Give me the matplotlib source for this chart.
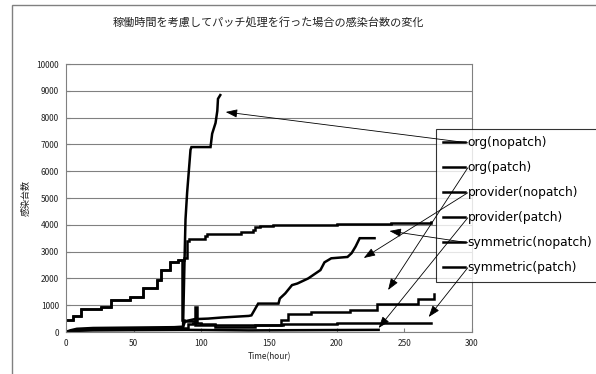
"""
Infected host counts over time when patching takes uptime into account.
"""
import matplotlib

matplotlib.use("Agg")
import matplotlib.pyplot as plt
from matplotlib.patches import Rectangle

plt.rcParams["font.family"] = ["Noto Sans CJK JP", "DejaVu Sans"]

TITLE = "稼働時間を考慮してパッチ処理を行った場合の感染台数の変化"
X_LABEL = "Time(hour)"
Y_LABEL = "感染台数"

labels = [
    "org(nopatch)",
    "org(patch)",
    "provider(nopatch)",
    "provider(patch)",
    "symmetric(nopatch)",
    "symmetric(patch)",
]

# values (hours, infected hosts)
org_nopatch_t = [0, 3, 8, 20, 40, 60, 80, 86.5, 87.5, 88.3, 89.5, 92, 92.7, 106.8, 108, 110.5, 111.8, 112.3, 114]
org_nopatch_v = [0, 60, 120, 150, 160, 170, 180, 200, 2500, 4200, 5200, 6800, 6900, 6900, 7400, 7800, 8250, 8700, 8840]

org_patch_t = [0, 8, 40, 86, 90, 94, 95, 96.5, 100, 110, 135, 157, 159, 164, 181, 210, 230, 260, 272]
org_patch_v = [0, 100, 130, 150, 300, 350, 940, 350, 300, 260, 250, 250, 450, 690, 750, 815, 1060, 1250, 1400]

provider_nopatch_t = [0, 10, 40, 86, 88, 95, 105, 115, 135, 137, 142, 157, 158, 162, 167, 171, 179, 188, 191,
                      196, 208, 211, 214, 217, 228]
provider_nopatch_v = [0, 80, 100, 120, 400, 480, 500, 540, 600, 620, 1060, 1060, 1250, 1440, 1750, 1810, 2000,
                      2310, 2600, 2750, 2800, 2940, 3190, 3500, 3500]

provider_patch_t = [0, 5, 20, 50, 90, 135, 180, 231]
provider_patch_v = [0, 40, 60, 70, 80, 60, 70, 80]

symmetric_nopatch_t = [0, 5, 11, 26, 33, 47, 57, 67, 70, 77, 83, 87, 89.5, 91, 103, 104.5, 129, 138, 140, 143,
                       153, 200, 240, 270]
symmetric_nopatch_v = [450, 600, 850, 950, 1200, 1300, 1650, 1950, 2300, 2600, 2700, 2750, 3380, 3460, 3590,
                       3660, 3750, 3810, 3910, 3960, 4000, 4040, 4080, 4100]

symmetric_patch_t = [0, 5, 11, 26, 33, 47, 57, 67, 70, 77, 83, 86, 87, 95, 110, 140, 160, 200, 240, 270]
symmetric_patch_v = [450, 600, 850, 950, 1200, 1300, 1650, 1950, 2300, 2600, 2700, 440, 400, 250, 190, 250,
                     280, 320, 345, 345]

# where each legend entry's arrow points (hour, hosts)
arrow_t = [118, 238, 220, 231, 239, 268]
arrow_v = [8209, 1567, 2761, 149, 3769, 560]

W, H = 596, 374
fig = plt.figure(figsize=(W / 100, H / 100), dpi=100)
fig.patches.append(Rectangle((12 / W, -0.05), 1.1, 1 - 5 / H + 0.05, transform=fig.transFigure,
                             fill=False, edgecolor="#808080", lw=1.0))
fig.text(268 / W, 1 - 22 / H, TITLE, ha="center", va="center", fontsize=8, color="#222222")

ax = fig.add_axes([66 / W, 42 / H, 406 / W, 268 / H])

series = [
    (org_nopatch_t, org_nopatch_v, "default"),
    (org_patch_t, org_patch_v, "steps-post"),
    (provider_nopatch_t, provider_nopatch_v, "default"),
    (provider_patch_t, provider_patch_v, "default"),
    (symmetric_nopatch_t, symmetric_nopatch_v, "steps-post"),
    (symmetric_patch_t, symmetric_patch_v, "steps-post"),
]
handles = []
for (t, v, ds), lab in zip(series, labels):
    (ln,) = ax.plot(t, v, color="black", lw=1.8, drawstyle=ds, label=lab, solid_joinstyle="miter")
    handles.append(ln)

ax.set_xlim(0, 300)
ax.set_ylim(0, 10000)
ax.set_xticks(range(0, 301, 50))
ax.set_yticks(range(0, 10001, 1000))
ax.yaxis.grid(True, color="#808080", lw=0.8)
ax.set_axisbelow(True)
for sp in ax.spines.values():
    sp.set_color("#808080")
    sp.set_linewidth(0.8)
ax.tick_params(direction="in", length=3, width=0.8, color="#808080", labelsize=6, labelcolor="#222222", pad=5)
ax.set_xlabel(X_LABEL, fontsize=6, labelpad=3, color="#222222")
ax.set_ylabel(Y_LABEL, fontsize=6.5, color="#222222")
ax.yaxis.set_label_coords((31 - 66) / 406, 0.5)

leg = ax.legend(handles, labels, loc="upper left", bbox_to_anchor=(436 / W, 1 - 129 / H),
                bbox_transform=fig.transFigure, frameon=True, fancybox=False,
                prop={"family": "DejaVu Sans", "size": 8.8},
                handlelength=1.8, handletextpad=0.2, labelspacing=0.98, borderpad=0.6, borderaxespad=0)
leg.get_frame().set_edgecolor("black")
leg.get_frame().set_linewidth(0.8)
leg.set_zorder(5)

fig.canvas.draw()
for txt, t, v in zip(leg.get_texts(), arrow_t, arrow_v):
    bb = txt.get_window_extent()
    fx = bb.x0 / fig.bbox.width
    fy = (bb.y0 + bb.y1) / 2 / fig.bbox.height
    ax.annotate("", xy=(t, v), xycoords="data", xytext=(fx, fy), textcoords="figure fraction",
                arrowprops=dict(arrowstyle="-|>,head_length=0.7,head_width=0.25", color="black",
                                lw=0.6, shrinkA=0, shrinkB=0),
                zorder=6, annotation_clip=False)

fig.savefig("out.png", dpi=100)
